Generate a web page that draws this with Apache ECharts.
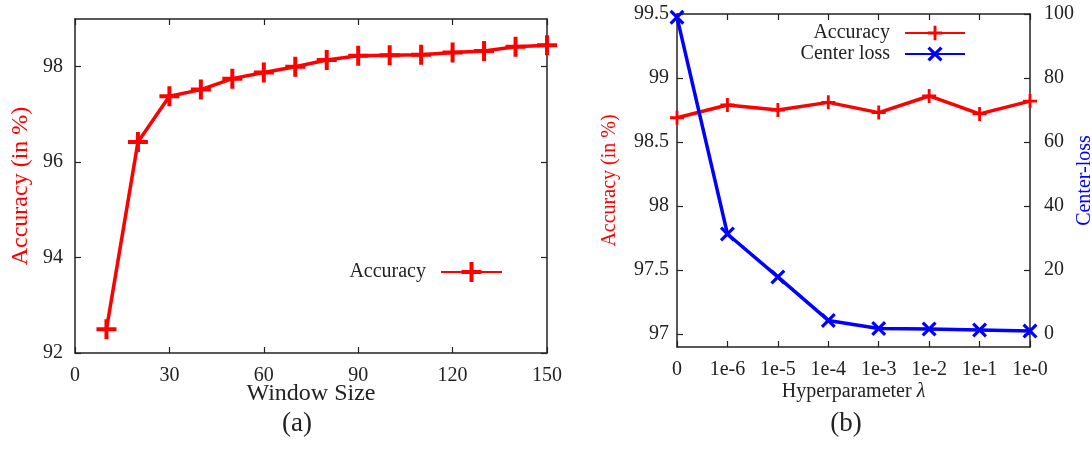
<!DOCTYPE html>
<html>
<head>
<meta charset="utf-8">
<style>
  html, body { margin: 0; padding: 0; background: #fff; }
  #main { width: 1092px; height: 450px; }
</style>
<script src="https://cdn.jsdelivr.net/npm/echarts@6/dist/echarts.min.js"></script>
</head>
<body>
<div id="main"></div>
<script>
// (a) accuracy against window size
const windowSizes = [10, 20, 30, 40, 50, 60, 70, 80, 90, 100, 110, 120, 130, 140, 150]
const accByWindow = [92.5, 96.42, 97.38, 97.52, 97.75, 97.88, 98.0, 98.14, 98.23, 98.24, 98.25, 98.3, 98.33, 98.42, 98.45]
const windowTicks = [0, 30, 60, 90, 120, 150]
const accWindowTicks = [92, 94, 96, 98]

// (b) accuracy and center loss against lambda
const lambdaLabels = ['0', '1e-6', '1e-5', '1e-4', '1e-3', '1e-2', '1e-1', '1e-0']
const accByLambda = [98.69, 98.79, 98.75, 98.81, 98.73, 98.86, 98.72, 98.82]
const centerLoss = [99, 31.3, 17.9, 4.3, 1.8, 1.6, 1.3, 1.0]
const accLambdaTicks = [97, 97.5, 98, 98.5, 99, 99.5]
const lossTicks = [0, 20, 40, 60, 80, 100]

const serif = 'Liberation Serif'
const ink = '#222'
const red = '#ff0000'
const blue = '#0000ff'

const plus = 'path://M-0.2,-1L0.2,-1L0.2,-0.2L1,-0.2L1,0.2L0.2,0.2L0.2,1L-0.2,1L-0.2,0.2L-1,0.2L-1,-0.2L-0.2,-0.2Z'
const cross = 'path://M-1,-0.7L-0.7,-1L0,-0.3L0.7,-1L1,-0.7L0.3,0L1,0.7L0.7,1L0,0.3L-0.7,1L-1,0.7L-0.3,0Z'

function frameLine () {
  return { show: true, onZero: false, lineStyle: { color: ink, width: 1.5 } }
}
function inTicks (values) {
  let t = { show: true, inside: true, length: 6, lineStyle: { color: ink, width: 1.2 } }
  if (values) t.customValues = values
  return t
}
function labels (values, margin, show) {
  let l = { show: show, margin: margin, fontFamily: serif, fontSize: 20, color: ink }
  if (values) l.customValues = values
  return l
}

const chart = echarts.init(document.getElementById('main'))
chart.setOption({
  animation: false,
  grid: [
    { left: 75, top: 19, width: 472, height: 334, outerBoundsMode: 'none' },
    { left: 677, top: 14, width: 353, height: 333, outerBoundsMode: 'none' }
  ],
  xAxis: [
    {
      type: 'value', gridIndex: 0, min: 0, max: 150, position: 'bottom',
      axisLine: frameLine(), axisTick: inTicks(windowTicks),
      axisLabel: labels(windowTicks, 13, true), splitLine: { show: false },
      name: 'Window Size', nameLocation: 'middle', nameGap: 29, nameMoveOverlap: false,
      nameTextStyle: { fontFamily: serif, fontSize: 24, color: ink }
    },
    {
      type: 'value', gridIndex: 0, min: 0, max: 150, position: 'top',
      axisLine: frameLine(), axisTick: inTicks(windowTicks),
      axisLabel: labels(windowTicks, 10, false), splitLine: { show: false }
    },
    {
      type: 'category', gridIndex: 1, data: lambdaLabels, boundaryGap: false, position: 'bottom',
      axisLine: frameLine(), axisTick: inTicks(),
      axisLabel: labels(null, 13, true), splitLine: { show: false },
      name: 'Hyperparameter {i|λ}', nameLocation: 'middle', nameGap: 35, nameMoveOverlap: false,
      nameTextStyle: {
        fontFamily: serif, fontSize: 20, color: ink,
        rich: { i: { fontFamily: serif, fontSize: 20, fontStyle: 'italic', color: ink } }
      }
    },
    {
      type: 'category', gridIndex: 1, data: lambdaLabels, boundaryGap: false, position: 'top',
      axisLine: frameLine(), axisTick: inTicks(),
      axisLabel: { show: false }, splitLine: { show: false }
    }
  ],
  yAxis: [
    {
      type: 'value', gridIndex: 0, min: 92, max: 99, position: 'left',
      axisLine: frameLine(), axisTick: inTicks(accWindowTicks),
      axisLabel: labels(accWindowTicks, 12, true), splitLine: { show: false },
      name: 'Accuracy (in %)', nameLocation: 'middle', nameGap: 42, nameMoveOverlap: false,
      nameTextStyle: { fontFamily: serif, fontSize: 24, color: red }
    },
    {
      type: 'value', gridIndex: 0, min: 92, max: 99, position: 'right',
      axisLine: frameLine(), axisTick: inTicks(accWindowTicks),
      axisLabel: labels(accWindowTicks, 12, false), splitLine: { show: false }
    },
    {
      type: 'value', gridIndex: 1, min: 96.9, max: 99.5, position: 'left',
      axisLine: frameLine(), axisTick: inTicks(accLambdaTicks),
      axisLabel: labels(accLambdaTicks, 8, true), splitLine: { show: false },
      name: 'Accuracy (in %)', nameLocation: 'middle', nameGap: 57, nameMoveOverlap: false,
      nameTextStyle: { fontFamily: serif, fontSize: 20, color: red }
    },
    {
      type: 'value', gridIndex: 1, min: -4, max: 100, position: 'right',
      axisLine: frameLine(), axisTick: inTicks(lossTicks),
      axisLabel: labels(lossTicks, 14, true), splitLine: { show: false },
      name: 'Center-loss', nameLocation: 'middle', nameGap: 45, nameMoveOverlap: false,
      nameTextStyle: { fontFamily: serif, fontSize: 20, color: blue }
    }
  ],
  legend: [
    {
      data: ['Accuracy'], right: 584, top: 257, align: 'right',
      itemWidth: 61, itemHeight: 25,
      textStyle: { fontFamily: serif, fontSize: 20, color: ink, padding: [0, 10, 0, 0] }
    },
    {
      data: ['Accuracy '], right: 121, top: 18, align: 'right',
      itemWidth: 60, itemHeight: 18,
      formatter: function (n) { return n.trim() },
      textStyle: { fontFamily: serif, fontSize: 20, color: ink, padding: [0, 10, 0, 0] }
    },
    {
      data: ['Center loss'], right: 121, top: 39, align: 'right',
      itemWidth: 60, itemHeight: 19,
      textStyle: { fontFamily: serif, fontSize: 20, color: ink, padding: [0, 10, 0, 0] }
    }
  ],
  series: [
    {
      name: 'Accuracy', type: 'line', xAxisIndex: 0, yAxisIndex: 0,
      data: windowSizes.map(function (w, i) { return [w, accByWindow[i]] }),
      symbol: plus, symbolSize: 20, showAllSymbol: true, clip: false,
      lineStyle: { color: red, width: 3.5 }, itemStyle: { color: red }
    },
    {
      name: 'Accuracy ', type: 'line', xAxisIndex: 2, yAxisIndex: 2,
      data: accByLambda,
      symbol: plus, symbolSize: 14, showAllSymbol: true, clip: false,
      lineStyle: { color: red, width: 3.5 }, itemStyle: { color: red }
    },
    {
      name: 'Center loss', type: 'line', xAxisIndex: 2, yAxisIndex: 3,
      data: centerLoss,
      symbol: cross, symbolSize: 15, showAllSymbol: true, clip: false,
      lineStyle: { color: blue, width: 3.5 }, itemStyle: { color: blue }
    }
  ],
  graphic: [
    {
      type: 'text', x: 297, y: 424,
      style: { text: '(a)', font: '27px "Liberation Serif"', fill: ink, textAlign: 'center', textVerticalAlign: 'middle' }
    },
    {
      type: 'text', x: 846, y: 424,
      style: { text: '(b)', font: '27px "Liberation Serif"', fill: ink, textAlign: 'center', textVerticalAlign: 'middle' }
    }
  ]
})
window.onresize = function () {
  chart.resize()
}
</script>
</body>
</html>
